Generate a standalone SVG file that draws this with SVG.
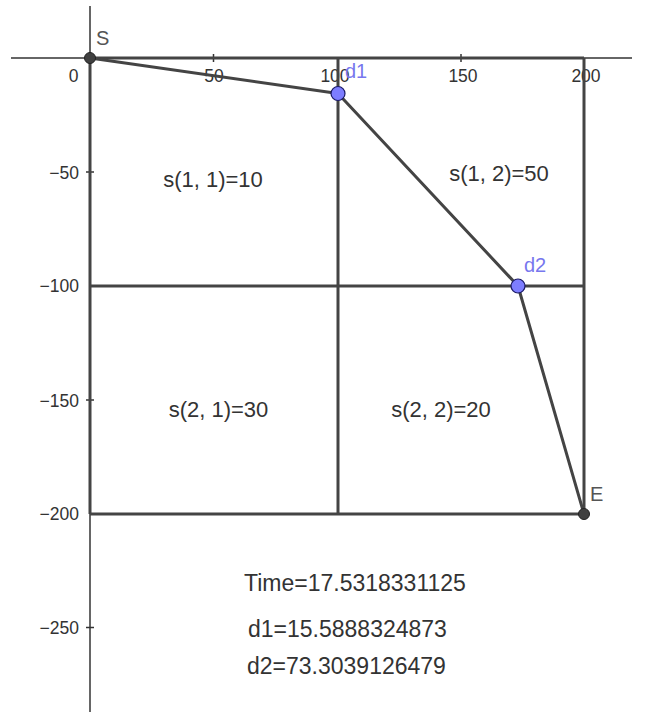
<svg xmlns="http://www.w3.org/2000/svg" width="650" height="712" viewBox="0 0 650 712">
<style>
.axis{stroke:#333;stroke-width:1.5;fill:none}
.grid{stroke:#444;stroke-width:3;fill:none}
.path{stroke:#444;stroke-width:3;fill:none;stroke-linejoin:round}
.tick{font-family:"Liberation Sans",Arial,sans-serif;font-size:17.5px;fill:#333}
.lbl{font-family:"Liberation Sans",Arial,sans-serif;font-size:22px;fill:#333}
.res{font-family:"Liberation Sans",Arial,sans-serif;font-size:23px;fill:#333}
.plbl{font-family:"Liberation Sans",Arial,sans-serif;font-size:20px}
.pt-dark{fill:#404040;stroke:#222;stroke-width:1}
.pt-blue{fill:#7d7dff;stroke:#1a1a66;stroke-width:1.2}
</style>
<rect width="650" height="712" fill="#fff"/>
<g id="axes">
<line class="axis" x1="11" y1="58" x2="632" y2="58"/>
<line class="axis" x1="90" y1="6" x2="90" y2="712"/>
<line class="axis" x1="213.5" y1="54" x2="213.5" y2="62"/>
<line class="axis" x1="461" y1="54" x2="461" y2="62"/>
<line class="axis" x1="86" y1="172" x2="94" y2="172"/>
<line class="axis" x1="86" y1="400" x2="94" y2="400"/>
<line class="axis" x1="86" y1="627.5" x2="94" y2="627.5"/>
<text class="tick" x="73.5" y="81.5" text-anchor="middle">0</text>
<text class="tick" x="214" y="81.5" text-anchor="middle">50</text>
<text class="tick" x="335" y="81.5" text-anchor="middle">100</text>
<text class="tick" x="463" y="81.5" text-anchor="middle">150</text>
<text class="tick" x="586" y="81.5" text-anchor="middle">200</text>
<text class="tick" x="79" y="179" text-anchor="end">−50</text>
<text class="tick" x="79" y="292" text-anchor="end">−100</text>
<text class="tick" x="79" y="406.5" text-anchor="end">−150</text>
<text class="tick" x="79" y="520" text-anchor="end">−200</text>
<text class="tick" x="79" y="634" text-anchor="end">−250</text>
</g>
<g id="grid">
<line class="grid" x1="90" y1="58" x2="584" y2="58"/>
<line class="grid" x1="90" y1="58" x2="90" y2="514"/>
<line class="grid" x1="338" y1="58" x2="338" y2="514"/>
<line class="grid" x1="584" y1="58" x2="584" y2="514"/>
<line class="grid" x1="90" y1="286" x2="584" y2="286"/>
<line class="grid" x1="90" y1="514" x2="584" y2="514"/>
</g>
<g id="connectors">
<polyline class="path" points="90,58 338,93.5 518,286 584,514"/>
</g>
<g id="node-S">
<circle class="pt-dark" cx="90" cy="58" r="5.5"/>
<text class="plbl" x="96" y="45" fill="#555">S</text>
</g>
<g id="node-d1">
<circle class="pt-blue" cx="338" cy="93.5" r="7"/>
<text class="plbl" x="345" y="78" fill="#7777ee">d1</text>
</g>
<g id="node-d2">
<circle class="pt-blue" cx="518" cy="286" r="7"/>
<text class="plbl" x="524" y="272" fill="#7777ee">d2</text>
</g>
<g id="node-E">
<circle class="pt-dark" cx="584" cy="514" r="5.5"/>
<text class="plbl" x="590" y="501" fill="#555">E</text>
</g>
<g id="region-labels">
<text class="lbl" x="213" y="187" text-anchor="middle">s(1, 1)=10</text>
<text class="lbl" x="499" y="181" text-anchor="middle">s(1, 2)=50</text>
<text class="lbl" x="218.5" y="417" text-anchor="middle">s(2, 1)=30</text>
<text class="lbl" x="441" y="417" text-anchor="middle">s(2, 2)=20</text>
</g>
<g id="results">
<text class="res" x="244" y="591">Time=17.5318331125</text>
<text class="res" x="248" y="637">d1=15.5888324873</text>
<text class="res" x="247" y="674">d2=73.3039126479</text>
</g>
</svg>
